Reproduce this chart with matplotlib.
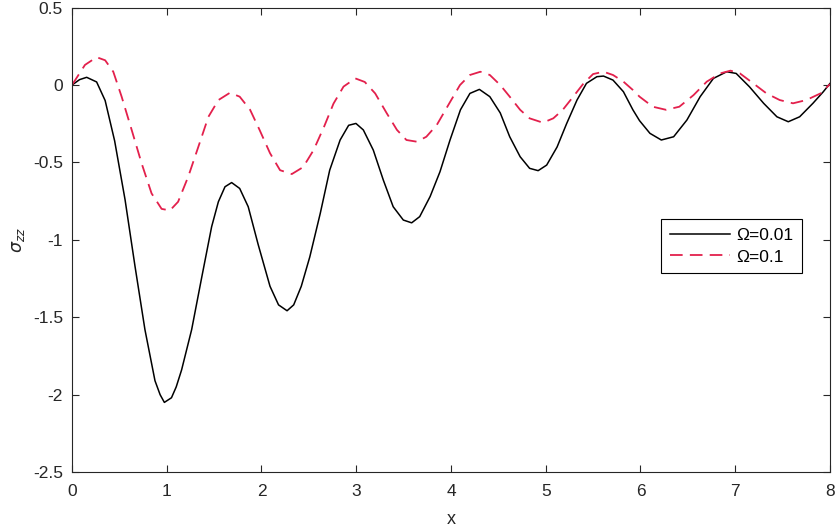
import matplotlib
matplotlib.use("Agg")
import matplotlib.pyplot as plt

plt.rcParams['font.family'] = ['Liberation Sans', 'DejaVu Sans']
plt.rcParams['mathtext.fontset'] = 'dejavusans'

# ---- data ----
x_a = [0.0, 0.08, 0.155, 0.26, 0.35, 0.45, 0.56, 0.665, 0.77, 0.876, 0.93, 0.975,
       1.05, 1.1, 1.157, 1.263, 1.37, 1.474, 1.545, 1.615, 1.685, 1.77, 1.86,
       1.965, 2.09, 2.18, 2.27, 2.34, 2.42, 2.51, 2.62, 2.72, 2.83, 2.92, 2.997,
       3.075, 3.18, 3.286, 3.39, 3.497, 3.585, 3.67, 3.78, 3.884, 3.99, 4.1,
       4.2, 4.3, 4.41, 4.52, 4.62, 4.73, 4.83, 4.92, 5.01, 5.12, 5.22, 5.33,
       5.43, 5.54, 5.61, 5.71, 5.82, 5.92, 5.99, 6.1, 6.22, 6.35, 6.49, 6.63,
       6.77, 6.91, 7.01, 7.15, 7.3, 7.44, 7.56, 7.68, 7.82, 7.93, 8.0]
sig_a = [0.0, 0.035, 0.05, 0.02, -0.10, -0.36, -0.74, -1.17, -1.58, -1.91, -2.0,
         -2.05, -2.02, -1.95, -1.84, -1.58, -1.24, -0.915, -0.754, -0.657,
         -0.63, -0.668, -0.786, -1.03, -1.30, -1.42, -1.458, -1.42, -1.30,
         -1.11, -0.83, -0.55, -0.355, -0.26, -0.248, -0.29, -0.42, -0.614,
         -0.786, -0.872, -0.89, -0.85, -0.72, -0.56, -0.355, -0.16, -0.054,
         -0.028, -0.075, -0.18, -0.334, -0.463, -0.538, -0.553, -0.517, -0.40,
         -0.25, -0.097, 0.011, 0.054, 0.058, 0.032, -0.043, -0.16, -0.23,
         -0.312, -0.355, -0.334, -0.226, -0.075, 0.043, 0.086, 0.075, -0.011,
         -0.118, -0.205, -0.237, -0.205, -0.118, -0.043, 0.01]

x_b = [0.0, 0.137, 0.26, 0.35, 0.436, 0.524, 0.63, 0.735, 0.84, 0.946, 1.034,
       1.12, 1.228, 1.333, 1.44, 1.545, 1.667, 1.77, 1.88, 1.98, 2.09, 2.196,
       2.32, 2.44, 2.55, 2.66, 2.76, 2.866, 2.99, 3.09, 3.2, 3.32, 3.43, 3.53,
       3.64, 3.74, 3.85, 3.99, 4.095, 4.2, 4.31, 4.41, 4.52, 4.62, 4.73, 4.83,
       4.97, 5.08, 5.18, 5.29, 5.4, 5.5, 5.61, 5.71, 5.82, 5.92, 5.99, 6.13,
       6.27, 6.41, 6.56, 6.7, 6.84, 6.95, 7.05, 7.19, 7.33, 7.47, 7.61, 7.75,
       7.9, 8.0]
sig_b = [0.0, 0.13, 0.18, 0.16, 0.086, -0.075, -0.29, -0.506, -0.70, -0.80, -0.81,
         -0.754, -0.59, -0.40, -0.205, -0.097, -0.05, -0.075, -0.16, -0.29,
         -0.44, -0.55, -0.575, -0.53, -0.42, -0.27, -0.12, -0.01, 0.043, 0.02,
         -0.054, -0.18, -0.29, -0.355, -0.366, -0.334, -0.258, -0.11, 0.0,
         0.065, 0.086, 0.065, 0.0, -0.075, -0.16, -0.215, -0.243, -0.215, -0.16,
         -0.075, 0.011, 0.071, 0.086, 0.065, 0.022, -0.032, -0.075, -0.14, -0.16,
         -0.14, -0.065, 0.022, 0.075, 0.093, 0.075, 0.011, -0.054, -0.097,
         -0.118, -0.097, -0.054, 0.006]

labels = ['Ω=0.01', 'Ω=0.1']
x_ticks = [0, 1, 2, 3, 4, 5, 6, 7, 8]
y_ticks = [-2.5, -2, -1.5, -1, -0.5, 0, 0.5]
y_tick_labels = ['-2.5', '-2', '-1.5', '-1', '-0.5', '0', '0.5']

# ---- figure ----
fig = plt.figure(figsize=(8.37, 5.31), dpi=100)
ax = fig.add_axes([0.086, 0.111, 0.9056, 0.8746])

ax.plot(x_a, sig_a, color='black', lw=1.1, label=labels[0])
ax.plot(x_b, sig_b, color='#e3204c', lw=1.3, dashes=(7, 4), label=labels[1])

ax.set_xlim(0, 8)
ax.set_ylim(-2.5, 0.5)
ax.set_xticks(x_ticks)
ax.set_xticklabels([str(t) for t in x_ticks])
ax.set_yticks(y_ticks)
ax.set_yticklabels(y_tick_labels)
ax.tick_params(direction='in', top=True, right=True, length=5, width=0.8,
               labelsize=12.5, colors='#262626')
ax.tick_params(axis='x', pad=8.5)
ax.tick_params(axis='y', pad=6.5)
for s in ax.spines.values():
    s.set_linewidth(0.8)
    s.set_color('#262626')

ax.set_xlabel('x', fontsize=13, color='#262626', labelpad=8.5)
ax.set_ylabel(r'$\sigma_{zz}$', fontsize=12.5, color='#262626', labelpad=4)

leg = ax.legend(loc='upper left', bbox_to_anchor=(0.777, 0.545), fontsize=12.5,
                frameon=True, fancybox=False, edgecolor='black', framealpha=1,
                handlelength=3.5, borderpad=0.5, labelspacing=0.38,
                handletextpad=0.35, borderaxespad=0)
leg.get_frame().set_linewidth(0.8)

fig.savefig('out.png', dpi=100)
